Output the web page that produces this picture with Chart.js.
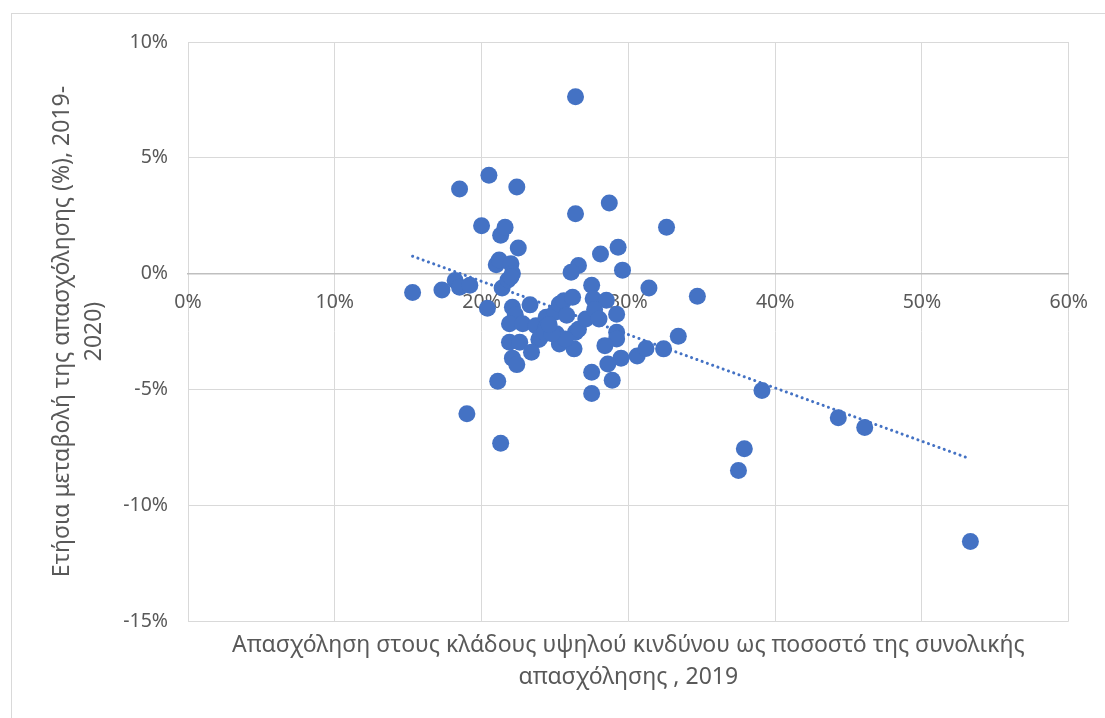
<!DOCTYPE html>
<html lang="el">
<head>
<meta charset="UTF-8">
<title>Απασχόληση σε κλάδους υψηλού κινδύνου και μεταβολή απασχόλησης</title>
<script src="https://cdn.jsdelivr.net/npm/chart.js"></script>
<style>
    * { margin: 0; padding: 0; box-sizing: border-box; }
    body { background: #fff; width: 1105px; height: 718px; overflow: hidden; position: relative; }
    .frame {
        position: absolute; left: 11px; top: 13px;
        width: 1200px; height: 800px;
        border: 1px solid #d9d9d9;
    }
    #chart { position: absolute; left: 0; top: 0; }
</style>
</head>
<body>
<div class="frame"></div>
<canvas id="chart" width="1105" height="718"></canvas>
<script>
// share of employment in high-risk sectors, 2019 (%)
const riskShare = [
    15.3, 17.3, 18.2, 18.5, 19.2, 18.5, 19.0, 20.0, 20.5, 20.4,
    21.1, 21.3, 21.3, 21.6, 21.0, 21.2, 21.4, 22.0, 22.1, 21.8,
    22.4, 22.5, 22.1, 23.3, 22.3, 21.9, 22.8, 23.7, 24.4, 25.0,
    25.3, 25.6, 26.2, 25.8, 25.1, 23.9, 21.9, 22.6, 25.3, 26.3,
    26.4, 26.6, 23.4, 22.1, 22.4, 27.1, 27.5, 27.6, 28.5, 27.7,
    28.0, 29.2, 29.6, 29.2, 29.2, 28.4, 29.5, 28.6, 27.5, 28.9,
    27.5, 30.6, 31.2, 31.4, 32.4, 33.4, 34.7, 26.4, 28.7, 32.6,
    28.1, 29.3, 26.6, 26.1, 26.4, 37.5, 37.9, 39.1, 44.3, 46.1,
    53.3, 24.4, 24.0, 25.7, 24.3, 24.8, 24.6, 22.0
];
// annual employment change 2019-2020 (%)
const empChange = [
    -0.82, -0.71, -0.30, -0.59, -0.50, 3.65, -6.05, 2.07, 4.25, -1.50,
    -4.65, -7.33, 1.66, 2.00, 0.38, 0.59, -0.62, 0.42, 0.00, -0.28,
    3.74, 1.11, -1.45, -1.35, -1.78, -2.17, -2.17, -2.25, -1.89, -1.67,
    -1.31, -1.17, -1.02, -1.80, -2.60, -2.85, -2.96, -2.96, -3.04, -3.25,
    -2.53, -2.40, -3.40, -3.65, -3.93, -1.96, -0.50, -1.09, -1.15, -1.55,
    -1.96, -1.76, 0.15, -2.53, -2.82, -3.11, -3.65, -3.90, -4.26, -4.60,
    -5.18, -3.56, -3.23, -0.62, -3.25, -2.71, -0.98, 2.58, 3.05, 2.00,
    0.85, 1.14, 0.35, 0.06, 7.64, -8.50, -7.56, -5.05, -6.22, -6.65,
    -11.57, -2.31, -2.75, -2.82, -2.53, -2.60, -2.20, -0.15
];
// linear trend line end points
const trendX = [15.3, 53.3];
const trendY = [0.75, -8.0];

const xTicks = [0, 10, 20, 30, 40, 50, 60];
const yTicks = [-15, -10, -5, 0, 5, 10];

const xTitle = ['Απασχόληση στους κλάδους υψηλού κινδύνου ως ποσοστό της συνολικής', 'απασχόλησης , 2019'];
const yTitle = ['Ετήσια μεταβολή της απασχόλησης (%), 2019-', '2020)'];

const blue = '#4472c4';
const txt = '#595959';
const gridCol = '#d9d9d9';
const fontFam = '"Noto Sans", sans-serif';
const tickFont = { family: fontFam, size: 19.5 };
const titleFont = { family: fontFam, size: 23, lineHeight: 1.4 };

const points = riskShare.map((x, i) => ({ x: x, y: empChange[i] }));
const trend = trendX.map((x, i) => ({ x: x, y: trendY[i] }));

new Chart(document.getElementById('chart'), {
    type: 'scatter',
    data: {
        datasets: [
            {
                label: 'trend',
                type: 'line',
                data: trend,
                borderColor: blue,
                borderWidth: 3,
                borderDash: [0.1, 5.5],
                borderCapStyle: 'round',
                pointRadius: 0,
                fill: false,
                order: 2
            },
            {
                label: 'data',
                data: points,
                backgroundColor: blue,
                borderColor: blue,
                borderWidth: 0,
                pointRadius: 8.5,
                pointHoverRadius: 8.5,
                order: 1
            }
        ]
    },
    options: {
        responsive: false,
        animation: false,
        layout: { padding: { left: 0, right: 35, top: 42, bottom: 0 } },
        plugins: {
            legend: { display: false },
            tooltip: { enabled: false }
        },
        scales: {
            x: {
                type: 'linear',
                position: 'bottom',
                min: 0, max: 60,
                afterBuildTicks: s => { s.ticks = xTicks.map(v => ({ value: v })); },
                afterFit: s => { s.height = 97; },
                ticks: { display: false },
                grid: { color: gridCol, lineWidth: 1, drawTicks: false },
                border: { display: false },
                title: {
                    display: true,
                    text: xTitle,
                    color: txt,
                    font: titleFont,
                    padding: { top: 0, bottom: 24 }
                }
            },
            xAxis0: {
                type: 'linear',
                position: { y: 0 },
                min: 0, max: 60,
                afterBuildTicks: s => { s.ticks = xTicks.map(v => ({ value: v })); },
                ticks: {
                    color: txt,
                    font: tickFont,
                    padding: 17,
                    maxRotation: 0,
                    callback: v => v + '%'
                },
                grid: { display: false, drawTicks: false },
                border: { color: '#bfbfbf', width: 1.5 }
            },
            y: {
                type: 'linear',
                min: -15, max: 10,
                afterBuildTicks: s => { s.ticks = yTicks.map(v => ({ value: v })); },
                afterFit: s => { s.width = 188; },
                ticks: {
                    color: txt,
                    font: tickFont,
                    padding: 20,
                    callback: v => v + '%'
                },
                grid: { color: gridCol, lineWidth: 1, drawTicks: false },
                border: { display: false },
                title: {
                    display: true,
                    text: yTitle,
                    color: txt,
                    font: titleFont,
                    padding: { top: 46, bottom: 0 }
                }
            }
        }
    }
});
</script>
</body>
</html>
